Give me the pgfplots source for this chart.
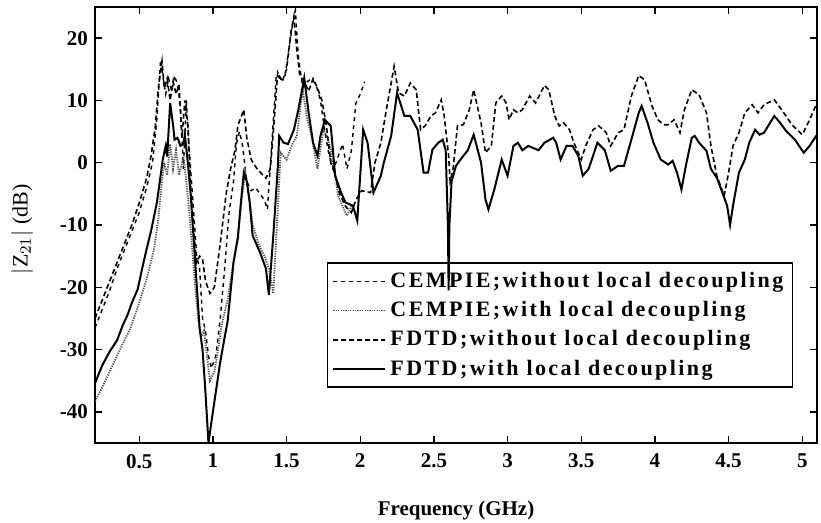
\documentclass[border=0pt]{standalone}
\usepackage{fontspec}
\setmainfont{Liberation Serif}
\usepackage{pgfplots}
\pgfplotsset{compat=1.18}
% sampled by eye from the figure: x in GHz, y in dB
\pgfplotstableread{
x y
0.20 -26.5
0.25 -23.5
0.30 -20.5
0.35 -17
0.40 -14
0.45 -11
0.50 -8
0.55 -4
0.59 0
0.62 7
0.645 16.5
0.66 14
0.68 11
0.70 13.5
0.72 11.5
0.74 14
0.76 12.5
0.78 9
0.80 -1
0.82 10
0.84 2
0.87 -8
0.89 -15
0.91 -17
0.93 -25
0.95 -27
0.97 -31
0.99 -33
1.02 -31
1.05 -25
1.08 -17
1.11 -8
1.14 -3
1.16 3
1.18 5
1.20 3
1.23 -3
1.26 -4.5
1.29 -4
1.32 -5
1.35 -6
1.37 -7.5
1.40 3
1.43 14
1.46 13.5
1.49 14
1.52 19
1.54 22
1.56 24.5
1.58 17
1.61 12
1.64 13
1.67 13.5
1.70 12.5
1.73 10
1.76 5
1.79 1
1.82 -1
1.85 1
1.88 3
1.91 -1
1.94 2
1.97 9.5
2.00 11
2.03 13
}\cempieA
\pgfplotstableread{
x y
0.20 -38.3
0.25 -36
0.30 -33.5
0.35 -31
0.40 -28.5
0.44 -26.6
0.50 -22.5
0.55 -18.7
0.60 -14
0.63 -9
0.65 -4
0.67 0
0.69 -2
0.71 3
0.73 -1
0.75 2
0.77 -2
0.80 1
0.82 -3
0.84 -8
0.86 -14
0.88 -20
0.90 -25
0.92 -28
0.94 -27
0.96 -31
0.98 -35
1.01 -33.5
1.03 -30.8
1.06 -26
1.10 -22
1.14 -16
1.17 -11.7
1.20 -5
1.22 -1.5
1.24 -4.3
1.27 -10
1.31 -13
1.35 -15
1.38 -17
1.41 -21
1.43 -12
1.46 1.6
1.50 0.5
1.54 3
1.57 4.3
1.60 10
1.61 11.7
1.64 7
1.67 4.3
1.71 -1
1.75 5.3
1.78 4
1.80 2
1.83 -2
1.85 -5.3
1.88 -7
1.91 -8.5
1.94 -7
1.97 -8
}\cempieB
\pgfplotstableread{
x y
0.20 -25
0.25 -22
0.30 -19
0.35 -16
0.40 -13
0.45 -10
0.50 -6.5
0.55 -2.5
0.58 1
0.61 6
0.63 12
0.655 16.3
0.67 12
0.69 13.5
0.71 10
0.73 13
0.75 11
0.77 12.5
0.79 4
0.81 10
0.83 6
0.85 -4
0.87 -11
0.89 -16
0.91 -15
0.93 -15.5
0.95 -19
0.98 -21
1.01 -20
1.05 -13
1.09 -5
1.12 -1
1.15 2
1.17 6
1.21 8.5
1.23 4
1.26 0.5
1.30 -1
1.36 -2.5
1.39 -1
1.42 8
1.44 14.5
1.47 13
1.50 15
1.53 21
1.55 23.5
1.57 18
1.59 14
1.62 13
1.65 11.5
1.68 13.5
1.71 12
1.74 10
1.77 6
1.80 0
1.83 -2
1.86 -5
1.90 -7
1.94 -8
1.97 -6
2.01 -4.5
2.07 -4.8
2.10 0
2.14 3.2
2.17 7.5
2.21 12.8
2.23 15.5
2.26 11.2
2.30 10.7
2.34 12.8
2.38 11.7
2.41 5.3
2.44 5.9
2.48 7.5
2.51 8
2.55 10.1
2.57 7.5
2.60 1.1
2.61 -3
2.63 -1
2.66 5.9
2.70 6.1
2.74 8.5
2.77 11.7
2.82 6.4
2.85 1.6
2.89 2.7
2.92 9.6
2.96 10.7
2.99 9.6
3.01 6.9
3.04 8.5
3.07 8
3.10 8.5
3.15 10.7
3.19 9.6
3.25 12.4
3.28 11.7
3.32 7.5
3.35 5.9
3.38 6.4
3.42 5.3
3.45 3.2
3.50 0.5
3.53 2.7
3.58 5.3
3.62 5.9
3.67 4.8
3.70 2.7
3.75 4.8
3.79 5.3
3.84 10.7
3.89 14
3.93 13.3
3.98 9.1
4.02 6.9
4.06 6.1
4.09 6.1
4.13 6.9
4.17 4.8
4.20 8.5
4.25 11.7
4.30 10.9
4.35 8
4.38 2.7
4.42 -2.1
4.47 -5.3
4.50 -1.6
4.53 2.7
4.57 4.8
4.61 8
4.66 9.3
4.70 8
4.74 9.3
4.81 10.1
4.86 8.5
4.93 6.1
5.00 4.5
5.04 6.4
5.10 9.6
}\fdtdA
\pgfplotstableread{
x y
0.20 -35.4
0.25 -32.5
0.30 -30.3
0.35 -28.5
0.39 -26
0.42 -24.5
0.45 -22.5
0.49 -20.3
0.52 -17
0.55 -13.9
0.58 -11
0.62 -6.4
0.64 -3
0.66 0.5
0.68 2.7
0.69 1
0.71 9.6
0.73 6
0.74 3.7
0.76 4
0.78 2.7
0.80 3
0.81 4.5
0.83 0
0.85 -5.3
0.88 -16
0.90 -23
0.91 -26.6
0.93 -30
0.95 -37
0.97 -45
1.00 -40
1.05 -32
1.08 -28
1.10 -25.5
1.14 -16
1.17 -12
1.19 -6.4
1.21 -1.6
1.23 -3
1.25 -6.4
1.27 -11.7
1.32 -14.4
1.36 -17
1.38 -21.2
1.41 -11.7
1.44 -1
1.45 4.3
1.48 3.2
1.51 3
1.55 5.3
1.58 8.5
1.61 12.3
1.62 13.6
1.65 8
1.68 3.2
1.71 1.1
1.73 4.3
1.76 6.9
1.80 5.9
1.83 -2.1
1.87 -4.8
1.90 -6.4
1.95 -6.9
1.98 -9.3
2.02 5.3
2.05 3.2
2.09 -4.8
2.14 -2.1
2.16 0
2.21 4.3
2.25 11.2
2.30 7.5
2.34 7.5
2.39 5.3
2.43 -1.6
2.46 -1.6
2.49 2.1
2.53 3.2
2.56 3.7
2.58 2
2.595 -10
2.60 -20.5
2.605 -10
2.62 -3
2.65 -0.5
2.68 0.5
2.73 2
2.77 4.5
2.82 0
2.85 -5.9
2.87 -7.5
2.91 -4.3
2.96 0.5
3.00 -2.1
3.04 2.7
3.07 3.2
3.10 2
3.14 2.7
3.21 2
3.25 3.2
3.31 4
3.33 3.2
3.36 0.5
3.40 2.7
3.44 2.7
3.48 1.1
3.51 -2.1
3.55 -1
3.61 3.2
3.66 2
3.70 -1.3
3.75 -0.5
3.79 -0.5
3.84 3.7
3.89 8
3.91 9.1
3.95 6.4
3.99 3.2
4.04 0.5
4.09 -0.3
4.12 0.3
4.15 -1.6
4.18 -4.3
4.21 -0.5
4.25 4
4.27 4.3
4.30 3.2
4.35 1.9
4.38 -1
4.42 -2.4
4.45 -4.3
4.49 -6.9
4.51 -10
4.53 -6.9
4.57 -1.6
4.61 0.5
4.64 3.2
4.68 5.3
4.71 4.5
4.74 4.8
4.81 7.5
4.85 6.4
4.89 5.1
4.95 3.7
5.01 1.6
5.05 2.7
5.10 4.5
}\fdtdB
\begin{document}
\begin{tikzpicture}
\begin{axis}[
  scale only axis,
  width=361pt, height=218pt,
  xmin=0.2, xmax=5.1, ymin=-45, ymax=25,
  xtick={0.5,1,1.5,2,2.5,3,3.5,4,4.5,5},
  xticklabels={0.5,1,1.5,2,2.5,3,3.5,4,4.5,5},
  ytick={-40,-30,-20,-10,0,10,20},
  yticklabels={-40,-30,-20,-10,0,10,20},
  tick align=inside,
  major tick length=3.5pt,
  tick style={black, line width=0.7pt},
  axis line style={line width=1pt},
  ticklabel style={font=\fontsize{10.5}{12}\selectfont\bfseries},
  xticklabel style={yshift=-2pt},
  xlabel={Frequency (GHz)},
  xlabel style={at={(axis description cs:0.5,-0.154)}, anchor=center,
    font=\fontsize{10.5}{12}\selectfont\bfseries},
  ylabel={$|$Z$_{21}|$ (dB)},
  ylabel style={at={(axis description cs:-0.101,0.49)}, anchor=center,
    font=\fontsize{11}{13}\selectfont},
  legend style={at={(0.967,0.126)}, anchor=south east, draw=black, fill=none,
    line width=0.8pt, inner sep=2.5pt, row sep=1.5pt,
    font=\fontsize{11}{13}\selectfont\bfseries\addfontfeature{LetterSpace=11}},
  legend cell align=left,
  legend image code/.code={\draw[#1] (0pt,0pt) -- (26pt,0pt);},
]
\addplot[black, line width=0.7pt, dash pattern=on 2pt off 2pt] table {\cempieA};
\addlegendentry{CEMPIE;without local decoupling}
\addplot[black!70, line width=0.9pt, dash pattern=on 0.6pt off 0.6pt] table {\cempieB};
\addlegendentry{CEMPIE;with local decoupling}
\addplot[black, line width=0.8pt, dash pattern=on 2.5pt off 1.5pt] table {\fdtdA};
\addlegendentry{FDTD;without local decoupling}
\addplot[black, line width=1pt] table {\fdtdB};
\addlegendentry{FDTD;with local decoupling}
\end{axis}
\pgfresetboundingbox
\path[use as bounding box] ([xshift=-47.5pt,yshift=-40pt]current axis.south west) rectangle ([xshift=2pt,yshift=3.5pt]current axis.north east);
\end{tikzpicture}
\end{document}
